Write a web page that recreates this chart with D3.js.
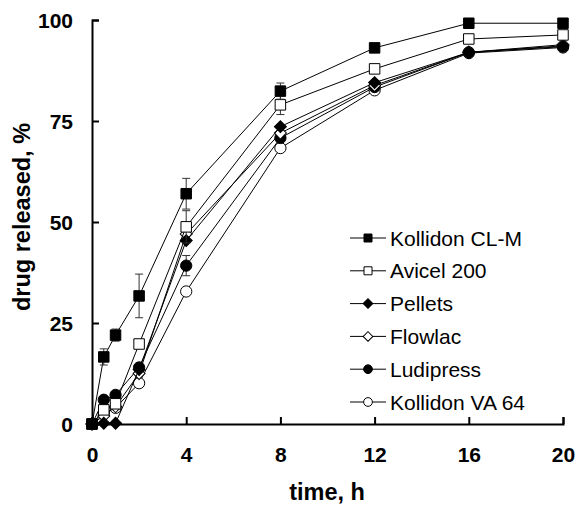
<!DOCTYPE html>
<html>
<head>
<meta charset="utf-8">
<script src="https://cdn.jsdelivr.net/npm/d3@7"></script>
<style>
  html, body { margin: 0; padding: 0; background: #fff; }
  svg { display: block; }
</style>
</head>
<body>
<svg id="chart" width="576" height="506"></svg>
<script>
// Sampling times (h)
const times = [0, 0.5, 1, 2, 4, 8, 12, 16, 20];

// Cumulative drug release (%) per formulation
const kollidonCLM = [0, 16.6, 22.0, 31.7, 57.0, 82.4, 93.1, 99.2, 99.2];
const avicel200   = [0, 3.5, 5.0, 19.8, 48.8, 79.0, 87.9, 95.3, 96.3];
const pellets     = [0, 0.2, 0.2, 13.5, 45.4, 73.6, 84.5, 92.0, 93.6];
const flowlac     = [0, 2.0, 4.3, 12.5, 47.0, 72.0, 83.8, 92.0, 93.9];
const ludipress   = [0, 6.0, 7.2, 14.0, 39.2, 70.8, 83.4, 92.0, 93.4];
const kollidonVA  = [0, 2.7, 4.0, 10.1, 32.8, 68.3, 82.6, 91.8, 93.2];

// Standard deviations (%)
const sdCLM       = [0, 2.0, 1.5, 5.4, 3.8, 2.0, 0.8, 0.5, 0.5];
const sdAvicel    = [0, 0, 0, 0, 4.0, 2.4, 0, 0, 0];
const sdPellets   = [0, 0, 0, 0, 0, 0, 0, 0, 0];
const sdFlowlac   = [0, 0, 0, 0, 0, 0, 0, 0, 0];
const sdLudipress = [0, 0, 0, 0, 2.5, 0, 0, 0, 0];
const sdVA        = [0, 0, 0, 0, 0, 0, 0, 0, 0];

// Legend names and marker styles
const seriesNames = ["Kollidon CL-M", "Avicel 200", "Pellets", "Flowlac", "Ludipress", "Kollidon VA 64"];
const seriesValues = [kollidonCLM, avicel200, pellets, flowlac, ludipress, kollidonVA];
const seriesErrors = [sdCLM, sdAvicel, sdPellets, sdFlowlac, sdLudipress, sdVA];
const markerShapes = ["square", "square", "diamond", "diamond", "circle", "circle"];
const markerFilled = [true, false, true, false, true, false];

// Axis ticks
const xTicks = [0, 4, 8, 12, 16, 20];
const yTicks = [0, 25, 50, 75, 100];

const svg = d3.select("#chart");
const x = d3.scaleLinear().domain([0, 20]).range([92, 563]);
const y = d3.scaleLinear().domain([0, 100]).range([424, 20]);

// Diamonds are squares turned by 45 degrees
const symbolFor = {
  square: d3.symbolSquare,
  diamond: d3.symbolSquare,
  circle: d3.symbolCircle
};
const rotateFor = { square: 0, diamond: 45, circle: 0 };
const sizeFor = { square: 110, diamond: 72, circle: 100 };
const legendSizeFor = { square: 64, diamond: 46, circle: 60 };

const font = "'Liberation Sans', Arial, sans-serif";

// Axes
const xAxis = d3.axisBottom(x).tickValues(xTicks).tickSize(-7).tickPadding(17).tickFormat(d3.format("d"));
const yAxis = d3.axisLeft(y).tickValues(yTicks).tickSize(-7).tickPadding(17).tickFormat(d3.format("d"));

const gx = svg.append("g").attr("transform", `translate(0,${y(0)})`).call(xAxis);
const gy = svg.append("g").attr("transform", `translate(${x(0)},0)`).call(yAxis);

[gx, gy].forEach(g => {
  g.select(".domain").attr("stroke", "#000").attr("stroke-width", 2);
  g.selectAll(".tick line").attr("stroke", "#000").attr("stroke-width", 2);
  g.selectAll(".tick text")
    .attr("fill", "#000")
    .style("font-family", font)
    .style("font-weight", "bold")
    .style("font-size", "21px");
});
gy.selectAll(".tick text").attr("x", -19).attr("dy", "0.36em");
gx.selectAll(".tick text").attr("dy", "0.71em").attr("y", 23);

// Axis titles
svg.append("text")
  .attr("x", 327).attr("y", 500)
  .attr("text-anchor", "middle")
  .style("font-family", font)
  .style("font-weight", "bold")
  .style("font-size", "23.5px")
  .text("time, h");

svg.append("text")
  .attr("transform", "translate(30,217) rotate(-90)")
  .attr("text-anchor", "middle")
  .style("font-family", font)
  .style("font-weight", "bold")
  .style("font-size", "23.5px")
  .text("drug released, %");

const line = d3.line().x(d => x(d.t)).y(d => y(d.v));
const plot = svg.append("g");

// Draw from last to first so the first series sits on top
for (let i = seriesNames.length - 1; i >= 0; i--) {
  const pts = times.map((t, k) => ({ t, v: seriesValues[i][k], e: seriesErrors[i][k] }));
  const g = plot.append("g");

  g.append("path")
    .datum(pts)
    .attr("d", line)
    .attr("fill", "none")
    .attr("stroke", "#000")
    .attr("stroke-width", 1);

  // Error bars
  const eb = g.selectAll(".eb").data(pts.filter(p => p.e > 0)).enter().append("g");
  eb.append("line")
    .attr("x1", d => x(d.t)).attr("x2", d => x(d.t))
    .attr("y1", d => y(d.v + d.e)).attr("y2", d => y(d.v - d.e))
    .attr("stroke", "#333").attr("stroke-width", 1);
  eb.selectAll(".cap").data(d => [d.v + d.e, d.v - d.e].map(v => ({ t: d.t, v })))
    .enter().append("line")
    .attr("x1", d => x(d.t) - 4).attr("x2", d => x(d.t) + 4)
    .attr("y1", d => y(d.v)).attr("y2", d => y(d.v))
    .attr("stroke", "#333").attr("stroke-width", 1);

  const shape = markerShapes[i];
  g.selectAll(".m").data(pts).enter().append("path")
    .attr("transform", d => `translate(${x(d.t)},${y(d.v)}) rotate(${rotateFor[shape]})`)
    .attr("d", d3.symbol().type(symbolFor[shape]).size(sizeFor[shape]))
    .attr("fill", markerFilled[i] ? "#000" : "#fff")
    .attr("stroke", "#000")
    .attr("stroke-width", 1);
}

// Legend
const legend = svg.append("g");
const legendY0 = 238, legendStep = 32.8;
seriesNames.forEach((name, i) => {
  const ly = legendY0 + i * legendStep;
  const shape = markerShapes[i];
  legend.append("line")
    .attr("x1", 350).attr("x2", 386).attr("y1", ly).attr("y2", ly)
    .attr("stroke", "#000").attr("stroke-width", 1);
  legend.append("path")
    .attr("transform", `translate(368,${ly}) rotate(${rotateFor[shape]})`)
    .attr("d", d3.symbol().type(symbolFor[shape]).size(legendSizeFor[shape]))
    .attr("fill", markerFilled[i] ? "#000" : "#fff")
    .attr("stroke", "#000")
    .attr("stroke-width", 1);
  legend.append("text")
    .attr("x", 390).attr("y", ly)
    .attr("dy", "0.36em")
    .style("font-family", font)
    .style("font-size", "21px")
    .text(name);
});
</script>
</body>
</html>
